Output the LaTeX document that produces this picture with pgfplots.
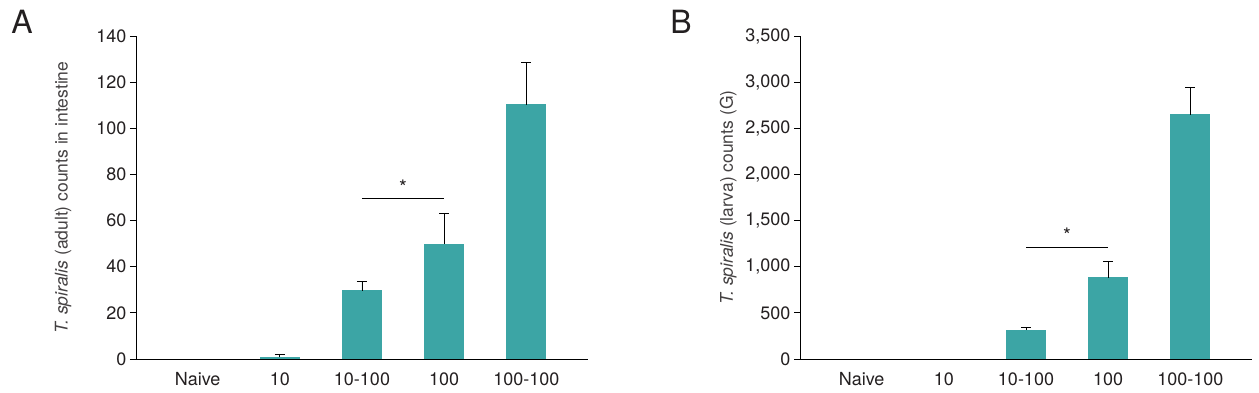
\documentclass[border=0pt]{standalone}
\usepackage{fontspec}
\setmainfont{TeX Gyre Heros}
\usepackage{pgfplots}
\pgfplotsset{compat=1.18}
\definecolor{barteal}{HTML}{3CA5A5}
\definecolor{txt}{HTML}{231F20}

\pgfplotstableread{
x y e
1 0.8 1.2
2 29.5 4.3
3 49.8 13.5
4 110.2 18.5
}\adultdata

\pgfplotstableread{
x y e
2 314 33
3 878 184
4 2644 303
}\larvadata

\begin{document}
\begin{tikzpicture}
\useasboundingbox (0pt,0pt) rectangle (1259pt,393pt);
\pgfplotsset{
  common/.style={
    scale only axis, width=452pt, height=323pt, anchor=south west,
    axis x line*=bottom, axis y line*=left,
    xmin=-0.75, xmax=4.75, ymin=0,
    xtick={0,1,2,3,4}, xticklabels={Naive,10,10-100,100,100-100},
    tick align=outside, major tick length=6pt,
    tick style={black, line width=0.8pt},
    xtick style={draw=none},
    axis line style={black, line width=0.9pt},
    ticklabel style={font=\fontsize{18}{20}\selectfont, text=txt},
    xticklabel style={yshift=-4pt},
    /pgf/number format/assume math mode=true,
    ylabel style={font=\fontsize{17.5}{20}\selectfont, text=txt!85, anchor=center},
    clip=false,
  },
  mybar/.style={ybar, bar width=39pt, fill=barteal, draw=barteal, line width=0pt,
    error bars/.cd, y dir=plus, y explicit, error mark=|,
    error bar style={draw=black, line width=0.9pt},
    error mark options={draw=black, mark size=5pt, line width=0.9pt}},
}

\begin{axis}[common, at={(136pt,34pt)}, ymax=140, ytick={0,20,...,140},
  ylabel={\textit{T. spiralis} (adult) counts in intestine},
  ylabel style={at={(axis description cs:-0.1615,0.5)}}]
\addplot[mybar] table[x=x, y=y, y error=e] {\adultdata};
\draw[black, line width=0.9pt] (axis cs:2,69.4) -- (axis cs:3,69.4);
\node[font=\fontsize{20}{22}\selectfont, text=txt] at (axis cs:2.5,74.5) {*};
\end{axis}

\begin{axis}[common, at={(800pt,34pt)}, ymax=3500, ytick={0,500,...,3500},
  /pgf/number format/1000 sep={,},
  ylabel={\textit{T. spiralis} (larva) counts (G)},
  ylabel style={at={(axis description cs:-0.159,0.5)}}]
\addplot[mybar] table[x=x, y=y, y error=e] {\larvadata};
\draw[black, line width=0.9pt] (axis cs:2,1213) -- (axis cs:3,1213);
\node[font=\fontsize{20}{22}\selectfont, text=txt] at (axis cs:2.5,1345) {*};
\end{axis}

\node[font=\fontsize{32}{36}\selectfont, text=txt] at (22pt,371pt) {A};
\node[font=\fontsize{32}{36}\selectfont, text=txt] at (681pt,371pt) {B};
\end{tikzpicture}
\end{document}
